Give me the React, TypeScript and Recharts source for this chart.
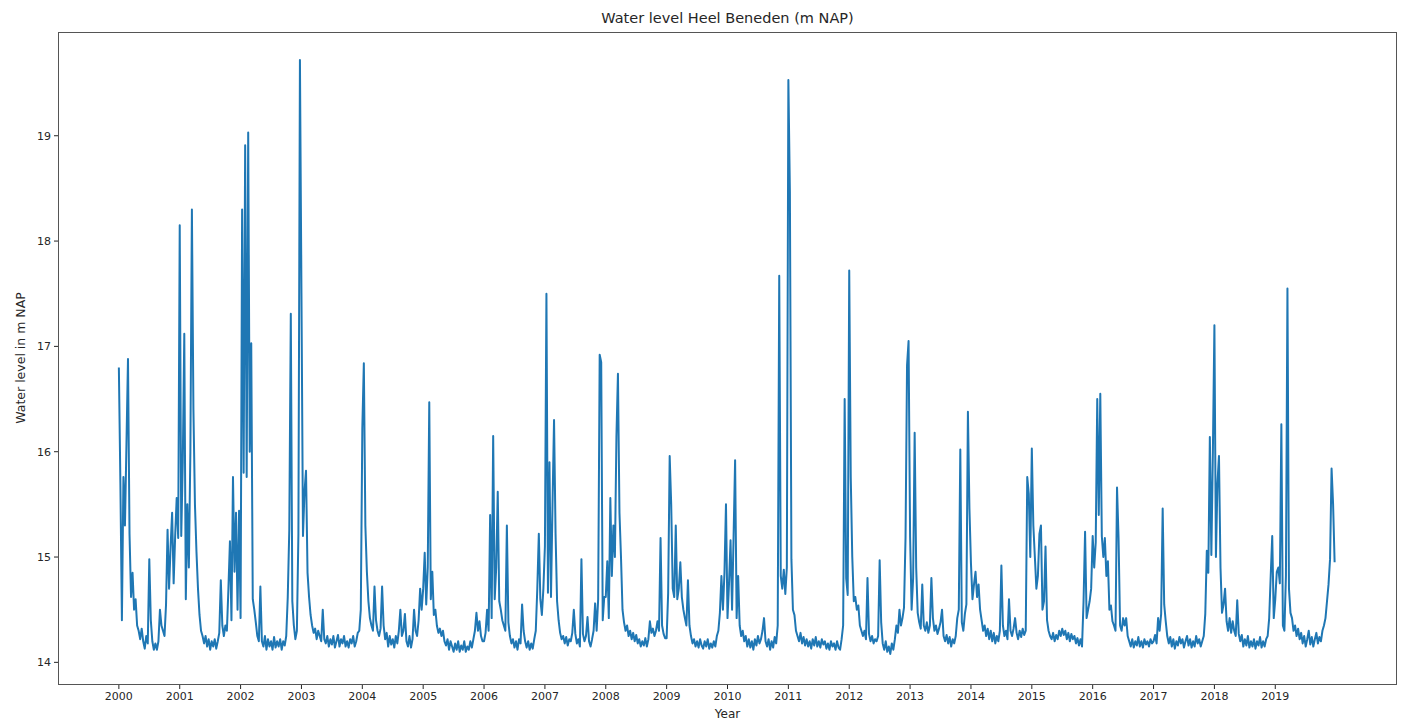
import React from 'react';
import { LineChart, Line, XAxis, YAxis } from 'recharts';

// Water level samples per year (≈ every 9 days), m NAP
const y2000 = [16.8, 15.7, 14.4, 15.76, 15.3, 16.08, 16.88, 15.22, 14.62, 14.85, 14.5, 14.6, 14.35, 14.3, 14.22, 14.32, 14.2, 14.13, 14.25, 14.18, 14.98, 14.4, 14.2, 14.12, 14.18, 14.12, 14.2, 14.5, 14.35, 14.3, 14.25, 14.55, 15.26, 14.7, 15.1, 15.42, 14.75, 15.2, 15.56, 15.18];
const y2001 = [18.15, 15.2, 15.9, 17.12, 14.6, 15.5, 14.9, 16.0, 18.3, 16.4, 15.5, 15.05, 14.7, 14.45, 14.3, 14.25, 14.18, 14.25, 14.15, 14.22, 14.12, 14.2, 14.15, 14.22, 14.13, 14.2, 14.28, 14.78, 14.35, 14.25, 14.35, 14.3, 14.7, 15.15, 14.4, 15.76, 14.86, 15.42, 14.5, 15.44];
const y2002 = [14.42, 18.3, 15.8, 18.91, 15.76, 19.03, 16.0, 17.03, 14.6, 14.5, 14.38, 14.25, 14.2, 14.72, 14.2, 14.15, 14.25, 14.12, 14.22, 14.15, 14.2, 14.12, 14.24, 14.14, 14.2, 14.15, 14.22, 14.12, 14.2, 14.16, 14.25, 14.62, 15.26, 17.31, 14.58, 14.35, 14.22, 14.3, 15.22, 19.72];
const y2003 = [17.5, 15.2, 15.62, 15.82, 14.85, 14.62, 14.45, 14.35, 14.28, 14.32, 14.22, 14.3, 14.25, 14.2, 14.5, 14.22, 14.18, 14.25, 14.15, 14.22, 14.17, 14.25, 14.14, 14.2, 14.26, 14.15, 14.22, 14.18, 14.25, 14.15, 14.2, 14.14, 14.22, 14.18, 14.25, 14.15, 14.2, 14.28, 14.3, 14.5];
const y2004 = [16.22, 16.84, 15.3, 14.86, 14.58, 14.42, 14.35, 14.3, 14.72, 14.4, 14.3, 14.25, 14.32, 14.72, 14.35, 14.22, 14.28, 14.15, 14.25, 14.17, 14.22, 14.14, 14.25, 14.18, 14.3, 14.5, 14.25, 14.3, 14.46, 14.2, 14.15, 14.25, 14.14, 14.22, 14.5, 14.3, 14.25, 14.4, 14.7, 14.5];
const y2005 = [14.7, 15.04, 14.55, 14.9, 16.47, 14.6, 14.86, 14.45, 14.5, 14.35, 14.28, 14.32, 14.25, 14.3, 14.2, 14.16, 14.22, 14.12, 14.2, 14.15, 14.1, 14.18, 14.12, 14.2, 14.1, 14.16, 14.12, 14.2, 14.1, 14.15, 14.12, 14.2, 14.14, 14.22, 14.3, 14.47, 14.3, 14.39, 14.25, 14.2];
const y2006 = [14.2, 14.28, 14.5, 14.3, 15.4, 14.42, 16.15, 14.6, 14.9, 15.62, 14.58, 14.5, 14.4, 14.35, 14.3, 15.3, 14.38, 14.25, 14.18, 14.22, 14.14, 14.2, 14.12, 14.22, 14.18, 14.55, 14.3, 14.2, 14.14, 14.2, 14.12, 14.18, 14.13, 14.22, 14.3, 14.7, 15.22, 14.6, 14.45, 14.7];
const y2007 = [15.1, 17.5, 14.66, 15.9, 14.62, 15.5, 16.3, 15.22, 14.58, 14.4, 14.28, 14.22, 14.25, 14.18, 14.24, 14.16, 14.22, 14.2, 14.28, 14.5, 14.27, 14.18, 14.22, 14.15, 14.98, 14.27, 14.2, 14.25, 14.43, 14.2, 14.15, 14.22, 14.3, 14.56, 14.3, 14.6, 16.92, 16.85, 14.4, 14.62];
const y2008 = [14.62, 14.96, 14.42, 15.56, 14.82, 15.3, 15.0, 16.14, 16.74, 15.42, 15.0, 14.5, 14.38, 14.3, 14.35, 14.25, 14.3, 14.22, 14.28, 14.2, 14.26, 14.18, 14.22, 14.15, 14.2, 14.16, 14.23, 14.15, 14.22, 14.39, 14.28, 14.32, 14.25, 14.3, 14.39, 14.3, 15.18, 14.35, 14.27, 14.23];
const y2009 = [14.23, 14.66, 15.96, 15.5, 14.7, 14.62, 15.3, 14.6, 14.7, 14.95, 14.62, 14.5, 14.42, 14.35, 14.78, 14.35, 14.25, 14.18, 14.22, 14.15, 14.2, 14.14, 14.22, 14.16, 14.13, 14.2, 14.15, 14.22, 14.13, 14.18, 14.14, 14.2, 14.15, 14.25, 14.3, 14.47, 14.82, 14.5, 14.85, 15.5];
const y2010 = [14.42, 14.75, 15.16, 14.5, 15.2, 15.92, 14.42, 14.82, 14.35, 14.25, 14.3, 14.2, 14.25, 14.15, 14.22, 14.14, 14.2, 14.12, 14.22, 14.16, 14.25, 14.18, 14.22, 14.3, 14.42, 14.2, 14.15, 14.22, 14.12, 14.2, 14.14, 14.24, 14.18, 14.35, 17.67, 14.82, 14.7, 14.88, 14.65, 14.9];
const y2011 = [19.53, 18.47, 14.98, 14.5, 14.45, 14.3, 14.25, 14.2, 14.28, 14.18, 14.24, 14.16, 14.22, 14.15, 14.2, 14.13, 14.22, 14.16, 14.24, 14.15, 14.2, 14.14, 14.22, 14.17, 14.2, 14.13, 14.18, 14.12, 14.2, 14.15, 14.18, 14.12, 14.2, 14.14, 14.12, 14.22, 14.35, 16.5, 14.8, 14.64];
const y2012 = [17.72, 15.76, 15.0, 14.58, 14.62, 14.5, 14.54, 14.35, 14.3, 14.25, 14.3, 14.22, 14.8, 14.27, 14.2, 14.25, 14.18, 14.22, 14.2, 14.25, 14.97, 14.38, 14.18, 14.12, 14.2, 14.1, 14.15, 14.08, 14.18, 14.12, 14.22, 14.35, 14.28, 14.5, 14.35, 14.42, 14.52, 15.18, 16.82, 17.05];
const y2013 = [15.2, 14.5, 14.8, 16.18, 14.9, 14.47, 14.38, 14.32, 14.74, 14.35, 14.3, 14.38, 14.28, 14.35, 14.8, 14.42, 14.3, 14.35, 14.27, 14.32, 14.38, 14.5, 14.25, 14.2, 14.26, 14.18, 14.24, 14.15, 14.22, 14.18, 14.25, 14.42, 14.5, 16.02, 14.38, 14.3, 14.46, 14.55, 16.38, 15.46];
const y2014 = [14.94, 14.6, 14.74, 14.86, 14.62, 14.74, 14.5, 14.4, 14.3, 14.35, 14.25, 14.32, 14.22, 14.3, 14.2, 14.28, 14.18, 14.25, 14.2, 14.3, 14.92, 14.35, 14.25, 14.3, 14.22, 14.6, 14.3, 14.25, 14.32, 14.42, 14.28, 14.22, 14.3, 14.24, 14.32, 14.26, 14.3, 15.76, 15.6, 15.0];
const y2015 = [16.03, 15.3, 15.0, 14.7, 14.82, 15.22, 15.3, 14.5, 14.58, 15.1, 14.4, 14.3, 14.25, 14.22, 14.28, 14.2, 14.26, 14.22, 14.3, 14.25, 14.32, 14.26, 14.3, 14.22, 14.28, 14.2, 14.27, 14.22, 14.25, 14.18, 14.23, 14.16, 14.22, 14.15, 14.58, 15.24, 14.42, 14.5, 14.58, 14.7];
const y2016 = [15.2, 14.9, 15.14, 16.5, 15.4, 16.55, 15.2, 15.0, 15.18, 14.82, 14.96, 14.5, 14.54, 14.39, 14.35, 14.3, 15.66, 15.18, 14.35, 14.3, 14.42, 14.35, 14.42, 14.25, 14.2, 14.15, 14.22, 14.14, 14.2, 14.16, 14.24, 14.15, 14.2, 14.14, 14.22, 14.17, 14.2, 14.15, 14.22, 14.18];
const y2017 = [14.2, 14.26, 14.18, 14.42, 14.3, 14.46, 15.46, 14.55, 14.39, 14.25, 14.18, 14.24, 14.15, 14.22, 14.13, 14.2, 14.16, 14.24, 14.18, 14.22, 14.14, 14.2, 14.25, 14.16, 14.22, 14.14, 14.2, 14.15, 14.25, 14.18, 14.22, 14.15, 14.2, 14.25, 14.46, 15.06, 14.85, 16.14, 15.02, 16.0];
const y2018 = [17.2, 15.0, 15.7, 15.96, 14.9, 14.47, 14.55, 14.7, 14.39, 14.3, 14.42, 14.28, 14.39, 14.3, 14.25, 14.59, 14.27, 14.2, 14.26, 14.15, 14.22, 14.16, 14.25, 14.14, 14.2, 14.15, 14.22, 14.13, 14.2, 14.16, 14.24, 14.14, 14.2, 14.15, 14.22, 14.25, 14.42, 14.82, 15.2, 14.42];
const y2019 = [14.6, 14.86, 14.9, 14.75, 16.26, 14.35, 14.3, 14.82, 17.55, 14.7, 14.47, 14.42, 14.3, 14.35, 14.25, 14.32, 14.22, 14.28, 14.18, 14.25, 14.15, 14.22, 14.3, 14.17, 14.24, 14.15, 14.22, 14.28, 14.18, 14.24, 14.2, 14.3, 14.35, 14.42, 14.58, 14.74, 14.98, 15.84, 15.5, 14.95];

const years = [2000, 2001, 2002, 2003, 2004, 2005, 2006, 2007, 2008, 2009, 2010, 2011, 2012, 2013, 2014, 2015, 2016, 2017, 2018, 2019];
const yearValues = [y2000, y2001, y2002, y2003, y2004, y2005, y2006, y2007, y2008, y2009, y2010, y2011, y2012, y2013, y2014, y2015, y2016, y2017, y2018, y2019];
const xTicks = years;
const yTicks = [14, 15, 16, 17, 18, 19];

const data: { t: number; level: number }[] = [];
years.forEach((yr, k) => {
  const vals = yearValues[k];
  vals.forEach((v, i) => data.push({ t: yr + i / vals.length, level: v }));
});

const FONT = '"DejaVu Sans", sans-serif';
const TXT = '#262626';

export default function App() {
  return (
    <div style={{ position: 'absolute', left: 0, top: 0, width: 1406, height: 724, background: '#fff', fontFamily: FONT }}>
      <LineChart width={1406} height={724} data={data} margin={{ top: 32, right: 9, bottom: 0, left: 0 }}>
        <XAxis
          dataKey="t"
          type="number"
          domain={[1999, 2021]}
          ticks={xTicks}
          allowDataOverflow
          height={39}
          axisLine={false}
          tickLine={{ stroke: TXT }}
          tickSize={4}
          tickMargin={3}
          tick={{ fill: TXT, fontSize: 11, fontFamily: FONT }}
          interval={0}
        />
        <YAxis
          type="number"
          domain={[13.785, 19.985]}
          ticks={yTicks}
          allowDataOverflow
          width={58}
          axisLine={false}
          tickLine={{ stroke: TXT }}
          tickSize={4}
          tickMargin={3}
          tick={{ fill: TXT, fontSize: 11, fontFamily: FONT }}
          interval={0}
        />
        <Line
          dataKey="level"
          type="linear"
          stroke="#1f77b4"
          strokeWidth={2}
          strokeLinejoin="round"
          dot={false}
          isAnimationActive={false}
        />
      </LineChart>
      <div style={{ position: 'absolute', left: 58, top: 32, width: 1339, height: 653, border: '1px solid #555', boxSizing: 'border-box', pointerEvents: 'none' }} />
      <div style={{ position: 'absolute', left: 58, width: 1339, top: 10, textAlign: 'center', fontSize: 14.5, color: TXT }}>
        Water level Heel Beneden (m NAP)
      </div>
      <div style={{ position: 'absolute', left: 58, width: 1339, top: 707, textAlign: 'center', fontSize: 12, color: TXT }}>
        Year
      </div>
      <div style={{ position: 'absolute', left: 20, top: 358, width: 0, height: 0 }}>
        <div style={{ position: 'absolute', transform: 'translate(-50%, -50%) rotate(-90deg)', whiteSpace: 'nowrap', fontSize: 12.5, color: TXT }}>
          Water level in m NAP
        </div>
      </div>
    </div>
  );
}
